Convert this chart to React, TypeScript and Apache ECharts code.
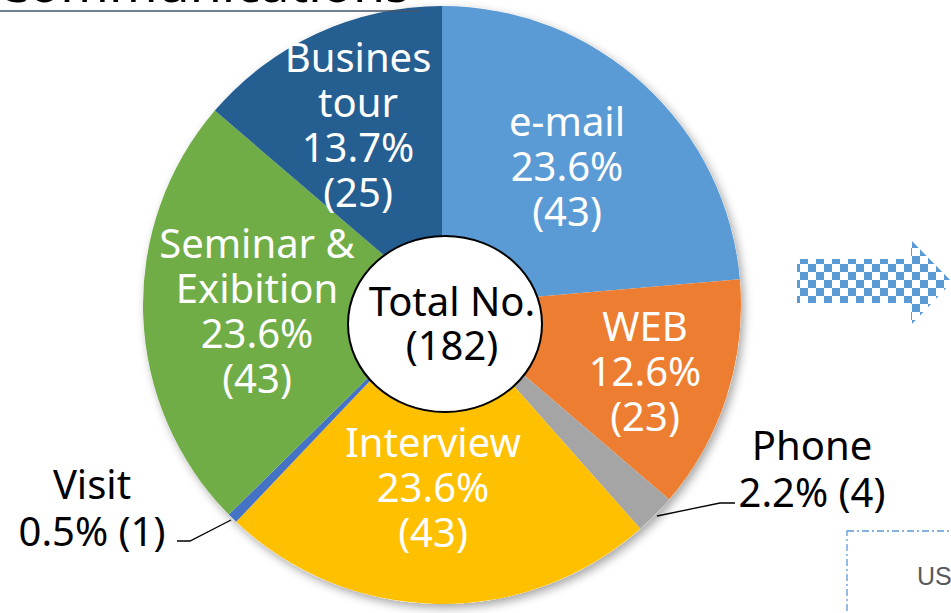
import React, { useEffect, useRef } from "react";
import * as echarts from "echarts";

const categories = ["e-mail", "WEB", "Phone", "Interview", "Visit", "Seminar &\nExibition", "Busines\ntour"];
const values = [43, 23, 4, 43, 1, 43, 25];
const colors = ["#5B9BD5", "#ED7D31", "#A5A5A5", "#FFC000", "#4472C4", "#70AD47", "#255E91"];
const outsideNames = ["Phone", "Visit"];
const titleText = "Communications";
const centerTitle = "Total No.";
const sideText = "US";

const FONT = '"Noto Sans", "DejaVu Sans", sans-serif';

function makeChecker(): HTMLCanvasElement {
  const c = document.createElement("canvas");
  c.width = 16;
  c.height = 16;
  const g = c.getContext("2d")!;
  g.fillStyle = "#ffffff";
  g.fillRect(0, 0, 16, 16);
  g.fillStyle = "#5B9BD5";
  g.fillRect(0, 0, 8, 8);
  g.fillRect(8, 8, 8, 8);
  return c;
}

export default function App() {
  const ref = useRef<HTMLDivElement>(null);
  useEffect(() => {
    document.body.style.margin = "0";
    const chart = echarts.init(ref.current!, null, { renderer: "svg" });
    const total = values.reduce((a, b) => a + b, 0);
    const pct = (v: number) => ((v / total) * 100).toFixed(1);

    const labelPos: Record<number, [number, number]> = {
      0: [567, 165],
      1: [645, 370],
      2: [812, 468],
      3: [433, 486],
      4: [92, 507],
      5: [257, 310],
      6: [358, 124],
    };
    const linePts: Record<number, number[][]> = {
      2: [[657, 516], [720, 503], [735, 503]],
      4: [[231, 520], [190, 541], [177, 541]],
    };

    const data = categories.map((name, i) => {
      const outside = outsideNames.includes(name);
      return {
        name,
        value: values[i],
        itemStyle: { color: colors[i] },
        label: outside
          ? { position: "outside", color: "#000", lineHeight: 47 }
          : { position: "inside", color: "#fff", lineHeight: 45 },
        labelLine: outside
          ? { show: true, lineStyle: { color: "#000", width: 1.3 } }
          : { show: false },
      };
    });

    const checker = makeChecker();

    chart.setOption({
      animation: false,
      graphic: [
        {
          type: "circle",
          z: -1,
          shape: { cx: 442, cy: 305, r: 299 },
          style: {
            fill: "#ffffff",
            shadowBlur: 10,
            shadowOffsetX: 3,
            shadowOffsetY: 4,
            shadowColor: "rgba(0,0,0,0.35)",
          },
        },
        {
          type: "text",
          z: 5,
          x: -4,
          y: -19,
          style: {
            text: titleText,
            font: `52px ${FONT}`,
            fill: "#000",
            verticalAlign: "middle",
            align: "left",
          },
        },
        {
          type: "line",
          z: 5,
          shape: { x1: 0, y1: 11, x2: 420, y2: 11 },
          style: { stroke: "#44546A", lineWidth: 1.5 },
        },
        {
          type: "polygon",
          z: 5,
          shape: {
            points: [
              [797, 259], [911, 259], [911, 240], [952, 282],
              [911, 325], [911, 303], [797, 303],
            ],
          },
          style: {
            fill: { image: checker, repeat: "repeat", imageWidth: 16, imageHeight: 16, x: 797 - 800, y: 259 - 256 } as any,
          },
        },
        {
          type: "rect",
          z: 5,
          shape: { x: 847, y: 531, width: 130, height: 120 },
          style: {
            fill: "none",
            stroke: "#5B9BD5",
            lineWidth: 1.3,
            lineDash: [7, 3, 2, 3],
          },
        },
        {
          type: "text",
          z: 5,
          x: 917,
          y: 576,
          style: {
            text: sideText,
            font: `25px "Liberation Sans", "Open Sans", sans-serif`,
            fill: "#595959",
            verticalAlign: "middle",
            align: "left",
          },
        },
        {
          type: "ellipse",
          z: 10,
          shape: { cx: 445, cy: 324, rx: 97, ry: 88 },
          style: { fill: "#ffffff", stroke: "#000", lineWidth: 2 },
        },
        {
          type: "text",
          z: 11,
          x: 452,
          y: 322,
          style: {
            text: `${centerTitle}\n(${total})`,
            font: `40px ${FONT}`,
            lineHeight: 44,
            fill: "#000",
            align: "center",
            verticalAlign: "middle",
          },
        },
      ],
      series: [
        {
          type: "pie",
          center: [442, 305],
          radius: [0, 299],
          startAngle: 90,
          clockwise: true,
          avoidLabelOverlap: false,
          silent: true,
          itemStyle: { borderWidth: 0 },
          label: {
            fontFamily: FONT,
            fontSize: 40,
            align: "center",
            formatter: (p: any) => {
              const name = p.name as string;
              if (outsideNames.includes(name)) {
                return `${name}\n${pct(p.value)}% (${p.value})`;
              }
              return `${name}\n${pct(p.value)}%\n(${p.value})`;
            },
          },
          labelLayout: (params: any) => {
            const i = params.dataIndex;
            const [x, y] = labelPos[i];
            const res: any = { x, y, align: "center", verticalAlign: "middle" };
            if (linePts[i]) res.labelLinePoints = linePts[i];
            return res;
          },
          data,
        },
      ],
    });
    return () => chart.dispose();
  }, []);
  return (
    <div
      ref={ref}
      style={{ position: "absolute", left: 0, top: 0, width: 951, height: 613 }}
    />
  );
}
